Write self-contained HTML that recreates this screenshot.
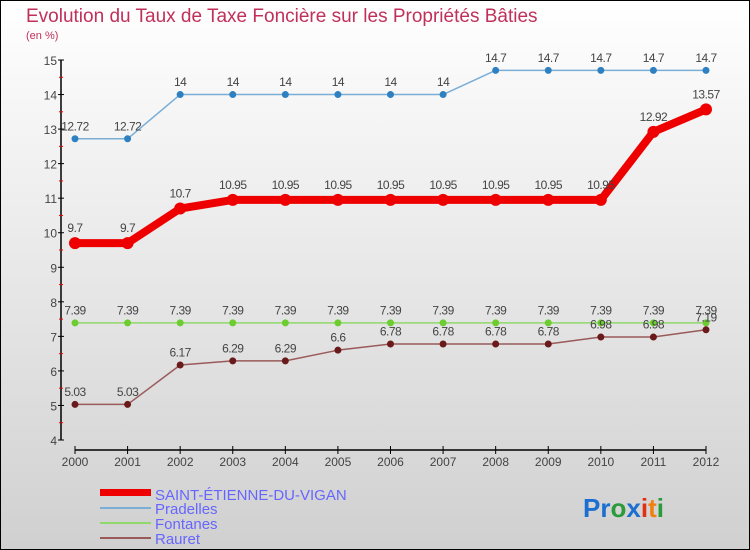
<!DOCTYPE html>
<html><head><meta charset="utf-8"><style>
body{margin:0;width:750px;height:550px;overflow:hidden;font-family:"Liberation Sans",sans-serif}
svg{display:block}
</style></head><body>
<svg width="750" height="550" xmlns="http://www.w3.org/2000/svg">
<defs><linearGradient id="bg" x1="0" y1="0" x2="0" y2="1"><stop offset="0" stop-color="#ffffff"/><stop offset="1" stop-color="#d0d0d0"/></linearGradient></defs>
<rect x="0.5" y="0.5" width="749" height="549" fill="url(#bg)" stroke="#000"/>
<text x="26" y="22" font-size="19" fill="#c0305a">Evolution du Taux de Taxe Foncière sur les Propriétés Bâties</text>
<text x="26" y="39" font-size="11" fill="#c0305a">(en %)</text>
<g id="axes"></g>
<g id="series"></g>
<g>
<rect x="100" y="489" width="51" height="7" fill="#e00"/>
<text x="155" y="500" font-size="15" fill="#6666ff">SAINT-ÉTIENNE-DU-VIGAN</text>
<line x1="100" y1="508" x2="151" y2="508" stroke="#7aaed6" stroke-width="2"/>
<text x="155" y="514" font-size="15" fill="#6666ff">Pradelles</text>
<line x1="100" y1="523" x2="151" y2="523" stroke="#8fd86a" stroke-width="2"/>
<text x="155" y="529" font-size="15" fill="#6666ff">Fontanes</text>
<line x1="100" y1="538" x2="151" y2="538" stroke="#9a5a5a" stroke-width="2"/>
<text x="155" y="544" font-size="15" fill="#6666ff">Rauret</text>
</g>
<text x="583" y="517" font-size="26" font-weight="bold"><tspan fill="#1a6fd0">Pr</tspan><tspan fill="#2a9a3a">o</tspan><tspan fill="#1a6fd0">x</tspan><tspan fill="#e03010">i</tspan><tspan fill="#f08010">t</tspan><tspan fill="#2a9a3a">i</tspan></text>
</svg>
<script>
const years=[2000,2001,2002,2003,2004,2005,2006,2007,2008,2009,2010,2011,2012];
const yTicks=[4,5,6,7,8,9,10,11,12,13,14,15];
const saint=[9.7,9.7,10.7,10.95,10.95,10.95,10.95,10.95,10.95,10.95,10.95,12.92,13.57];
const pradelles=[12.72,12.72,14,14,14,14,14,14,14.7,14.7,14.7,14.7,14.7];
const fontanes=[7.39,7.39,7.39,7.39,7.39,7.39,7.39,7.39,7.39,7.39,7.39,7.39,7.39];
const rauret=[5.03,5.03,6.17,6.29,6.29,6.6,6.78,6.78,6.78,6.78,6.98,6.98,7.19];
const NS="http://www.w3.org/2000/svg";
const xS=i=>75+i*(706-75)/(years.length-1);
const yS=v=>440-(v-4)*(380/11);
function mk(t,a,p){const e=document.createElementNS(NS,t);for(const k in a)e.setAttribute(k,a[k]);p.appendChild(e);return e;}
const ax=document.getElementById('axes');
const yaxis=mk('line',{x1:61,y1:yS(15),x2:61,y2:440,stroke:'#000','stroke-width':1.5},ax);


const xaxis=mk('line',{x1:75,y1:450,x2:706,y2:450,stroke:'#000','stroke-width':1.5},ax);


yTicks.forEach((v,i)=>{
 mk('line',{x1:58,y1:yS(v),x2:64,y2:yS(v),stroke:'#000'},ax);
 if(i<yTicks.length-1)mk('line',{x1:59,y1:yS(v+0.5),x2:63,y2:yS(v+0.5),stroke:'#e00'},ax);
 const t=mk('text',{x:57,y:yS(v)+5,'font-size':12,fill:'#444','text-anchor':'end'},ax);t.textContent=v;
 
 
});
years.forEach((y,i)=>{
 mk('line',{x1:xS(i),y1:446,x2:xS(i),y2:454,stroke:'#000'},ax);
 const t=mk('text',{x:xS(i),y:466,'font-size':12,fill:'#444','text-anchor':'middle'},ax);t.textContent=y;
 
 
});
const sg=document.getElementById('series');
function draw(name,vals,color,lw,r,dot){
 const g=mk('g',{},sg);
 
 
 const pts=vals.map((v,i)=>xS(i)+','+yS(v)).join(' ');
 mk('polyline',{points:pts,fill:'none',stroke:color,'stroke-width':lw,'stroke-linejoin':'round'},g);
 vals.forEach((v,i)=>{
  const c=mk('circle',{cx:xS(i),cy:yS(v),r:r,fill:dot},g);
  
  
  const t=mk('text',{x:xS(i),y:yS(v)-(r+5),'font-size':12,fill:'#444','text-anchor':'middle','letter-spacing':'-0.5'},g);
  t.textContent=String(v);
  
  
 });
}
draw('fontanes',fontanes,'#8fd86a',1.5,3.5,'#6ccc30');
draw('rauret',rauret,'#9a5a5a',1.5,3.5,'#6a1a1a');
draw('pradelles',pradelles,'#7aaed6',1.5,3.5,'#2f80c0');
draw('saint-etienne',saint,'#ee0000',8,6,'#ee0000');
</script>
</body></html>
